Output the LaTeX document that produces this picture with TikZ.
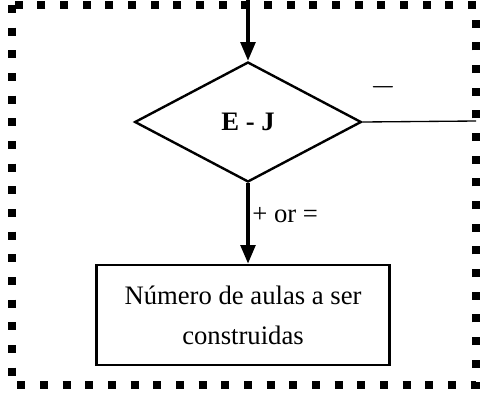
\documentclass[tikz,border=0pt]{standalone}
\usepackage{fontspec}
\setmainfont{Liberation Serif}
\usetikzlibrary{shapes.geometric, arrows.meta}
\tikzstyle{frame}=[line width=6pt, dash pattern=on 6pt off 11pt]
\tikzstyle{decision}=[diamond, draw, line width=1.8pt, inner sep=0pt, minimum width=170pt, minimum height=90pt, font=\fontsize{20}{22}\selectfont\bfseries]
\tikzstyle{result}=[rectangle, draw, line width=2pt, minimum width=220pt, minimum height=75pt, align=center, font=\fontsize{20}{30}\selectfont]
\tikzstyle{flow}=[line width=2.6pt, -{Triangle[length=14pt, width=11pt]}]

\begin{document}
\begin{tikzpicture}[x=0.75pt, y=-0.75pt]
    \useasboundingbox (0,0) rectangle (485,404);
    \draw [frame] (12,5) rectangle (476,385);
    \coordinate (in) at (248,0);
    \coordinate (out) at (476,121);
    \node [decision] (ej) at (248,122) {E - J};
    \node [result] (aulas) at (243,315) {Número de aulas a ser\\construidas};
    \draw [flow] (in) -- (ej.north);
    \draw [line width=1pt] (ej.east) -- (out) node [pos=0.18, above=14pt, font=\fontsize{24}{26}\selectfont\bfseries] (neg) {$-$};
    \draw [flow] (ej.south) -- (ej.south |- aulas.north) node [pos=0.4, right, inner sep=2pt, font=\fontsize{20}{22}\selectfont] (pos) {+ or =};
\end{tikzpicture}
\end{document}
